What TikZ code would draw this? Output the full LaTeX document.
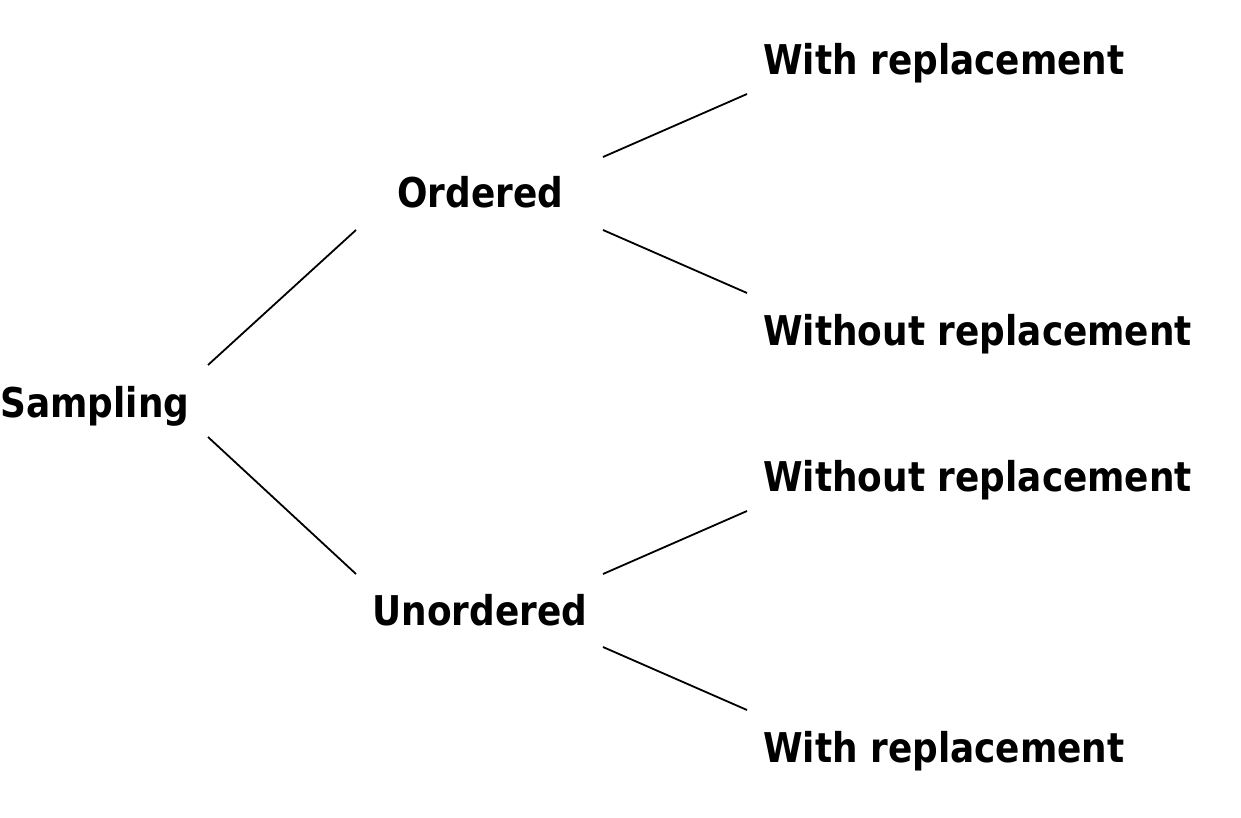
\documentclass[tikz,border=0pt]{standalone}
\usepackage{fontspec}
\setmainfont{DejaVu Sans}[FakeStretch=0.875]
\begin{document}
\begin{tikzpicture}[x=0.5pt,y=-0.5pt,
  lbl/.style={anchor=base west,inner sep=0pt,font=\fontsize{20.5}{24}\selectfont\bfseries},
  conn/.style={line width=0.9pt,black}]
\useasboundingbox (0,0) rectangle (1241,818);
\node[lbl] (s) at (0,417) {Sampling};
\node[lbl] (o) at (397,208) {Ordered};
\node[lbl] (u) at (372,625) {Unordered};
\node[lbl] (ow) at (763,75) {With replacement};
\node[lbl] (owo) at (763,345) {Without replacement};
\node[lbl] (uwo) at (763,491) {Without replacement};
\node[lbl] (uw) at (763,762) {With replacement};
\coordinate (s1) at (208,365);
\coordinate (s2) at (208,437);
\coordinate (o0) at (356,230);
\coordinate (u0) at (356,574);
\coordinate (o1) at (603,157);
\coordinate (o2) at (603,230);
\coordinate (u1) at (603,574);
\coordinate (u2) at (603,647);
\coordinate (ow0) at (747,94);
\coordinate (owo0) at (747,293);
\coordinate (uwo0) at (747,511);
\coordinate (uw0) at (747,710);
\draw[conn] (s1) -- (o0);
\draw[conn] (s2) -- (u0);
\draw[conn] (o1) -- (ow0);
\draw[conn] (o2) -- (owo0);
\draw[conn] (u1) -- (uwo0);
\draw[conn] (u2) -- (uw0);
\end{tikzpicture}
\end{document}
